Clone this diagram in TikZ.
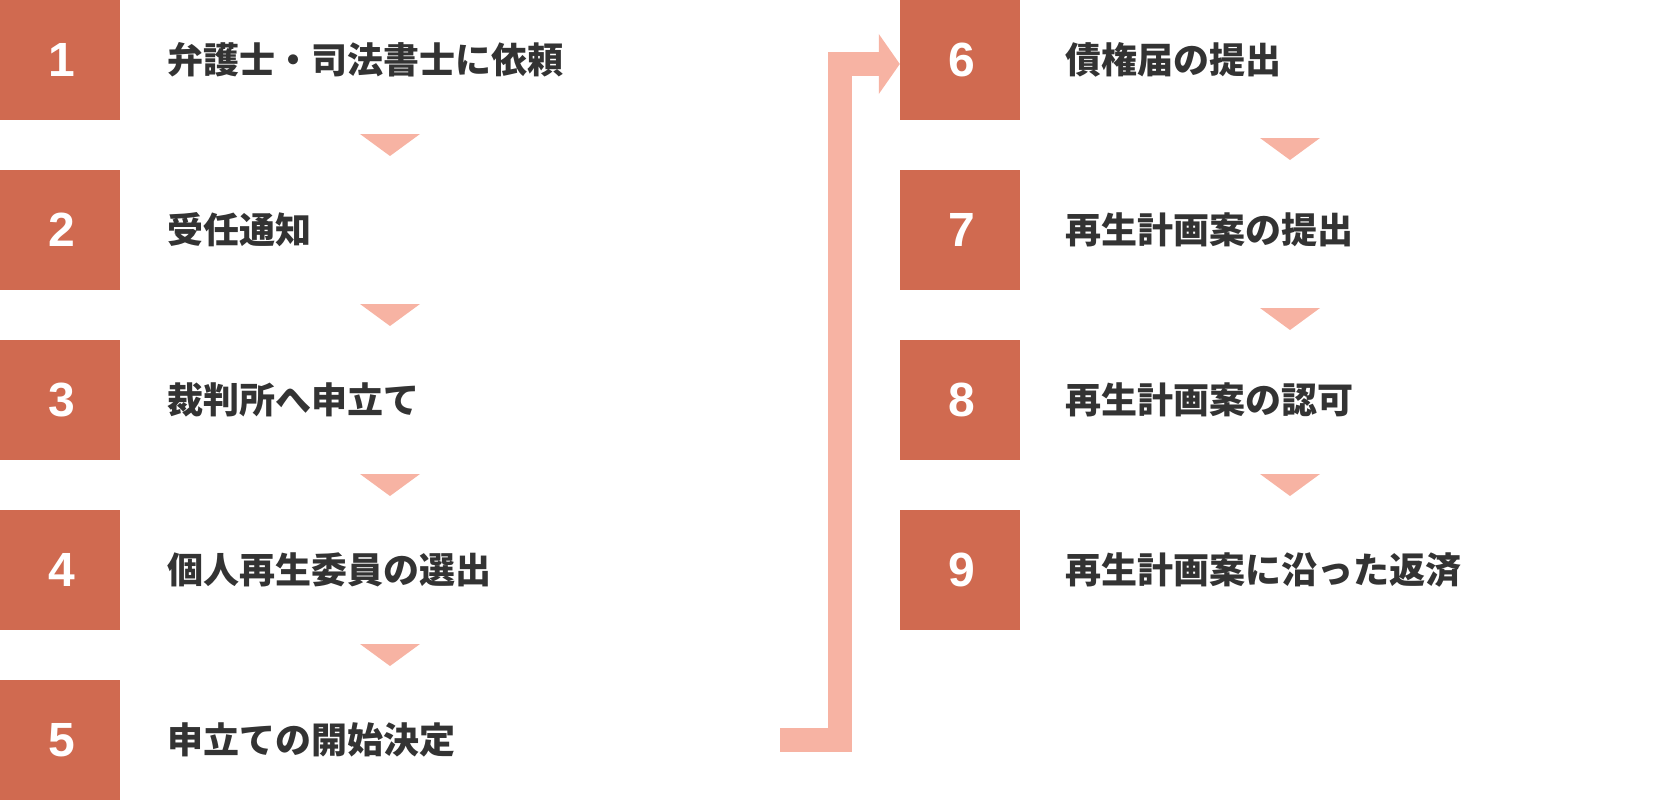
\documentclass[tikz,border=0pt]{standalone}
\usepackage{fontspec}
\newfontfamily\jpfont{Noto Sans CJK JP}
\newfontfamily\numfont{Liberation Sans}
\usepackage{tikz}
\usetikzlibrary{positioning,arrows.meta,calc}
\usepackage{xcolor}
\definecolor{stepred}{HTML}{D06A50}
\definecolor{steppink}{HTML}{F7B3A3}
\definecolor{steptext}{HTML}{333333}

\tikzset{
  numbox/.style={rectangle,fill=stepred,text=white,minimum width=120pt,minimum height=120pt,
    inner sep=0pt,font=\numfont\bfseries\fontsize{48}{48}\selectfont},
  numtext/.style={text=white,inner sep=0pt,font=\numfont\bfseries\fontsize{48}{48}\selectfont},
  steplabel/.style={anchor=west,inner sep=0pt,text=steptext,font=\jpfont\bfseries\fontsize{36}{40}\selectfont},
  downtri/.style={fill=steppink},
  flowline/.style={draw=steppink,line width=24pt,line join=miter,-{Triangle[length=21pt,width=59pt]}}
}

\begin{document}
\begin{tikzpicture}[x=1pt,y=-1pt]
\useasboundingbox (0,0) rectangle (1680,800);
% left column
\node[numbox] (b1) at (60,60) {};
\node[numbox] (b2) at (60,230) {};
\node[numbox] (b3) at (60,400) {};
\node[numbox] (b4) at (60,570) {};
\node[numbox] (b5) at (60,740) {};
% right column
\node[numbox] (b6) at (960,60) {};
\node[numbox] (b7) at (960,230) {};
\node[numbox] (b8) at (960,400) {};
\node[numbox] (b9) at (960,570) {};
% numbers
\node[numtext] (n1) at ($(b1)+(1.5,0)$) {1};
\node[numtext] (n2) at ($(b2)+(1.5,0)$) {2};
\node[numtext] (n3) at ($(b3)+(1.5,0)$) {3};
\node[numtext] (n4) at ($(b4)+(1.5,0)$) {4};
\node[numtext] (n5) at ($(b5)+(1.5,0)$) {5};
\node[numtext] (n6) at ($(b6)+(1.5,0)$) {6};
\node[numtext] (n7) at ($(b7)+(1.5,0)$) {7};
\node[numtext] (n8) at ($(b8)+(1.5,0)$) {8};
\node[numtext] (n9) at ($(b9)+(1.5,0)$) {9};
% labels
\node[steplabel] (t1) at ($(b1.east)+(47,0)$) {弁護士・司法書士に依頼};
\node[steplabel] (t2) at ($(b2.east)+(47,0)$) {受任通知};
\node[steplabel] (t3) at ($(b3.east)+(47,0)$) {裁判所へ申立て};
\node[steplabel] (t4) at ($(b4.east)+(47,0)$) {個人再生委員の選出};
\node[steplabel] (t5) at ($(b5.east)+(47,0)$) {申立ての開始決定};
\node[steplabel] (t6) at ($(b6.east)+(45,0)$) {債権届の提出};
\node[steplabel] (t7) at ($(b7.east)+(45,0)$) {再生計画案の提出};
\node[steplabel] (t8) at ($(b8.east)+(45,0)$) {再生計画案の認可};
\node[steplabel] (t9) at ($(b9.east)+(45,0)$) {再生計画案に沿った返済};
% small down triangles
\fill[downtri] ($(b1.south)!.5!(b2.north)+(330,0)$) +(-30,-11) -- +(30,-11) -- +(0,11) -- cycle;
\fill[downtri] ($(b2.south)!.5!(b3.north)+(330,0)$) +(-30,-11) -- +(30,-11) -- +(0,11) -- cycle;
\fill[downtri] ($(b3.south)!.5!(b4.north)+(330,0)$) +(-30,-11) -- +(30,-11) -- +(0,11) -- cycle;
\fill[downtri] ($(b4.south)!.5!(b5.north)+(330,0)$) +(-30,-11) -- +(30,-11) -- +(0,11) -- cycle;
\fill[downtri] ($(b6.south)!.5!(b7.north)+(330,4)$) +(-30,-11) -- +(30,-11) -- +(0,11) -- cycle;
\fill[downtri] ($(b7.south)!.5!(b8.north)+(330,4)$) +(-30,-11) -- +(30,-11) -- +(0,11) -- cycle;
\fill[downtri] ($(b8.south)!.5!(b9.north)+(330,0)$) +(-30,-11) -- +(30,-11) -- +(0,11) -- cycle;
% column change
\coordinate (tail) at ($(b5.east)+(660,0)$);
\draw[flowline] (tail) -| ($(b6.west)+(-60,4)$) -- ($(b6.west)+(0,4)$);
\end{tikzpicture}
\end{document}
